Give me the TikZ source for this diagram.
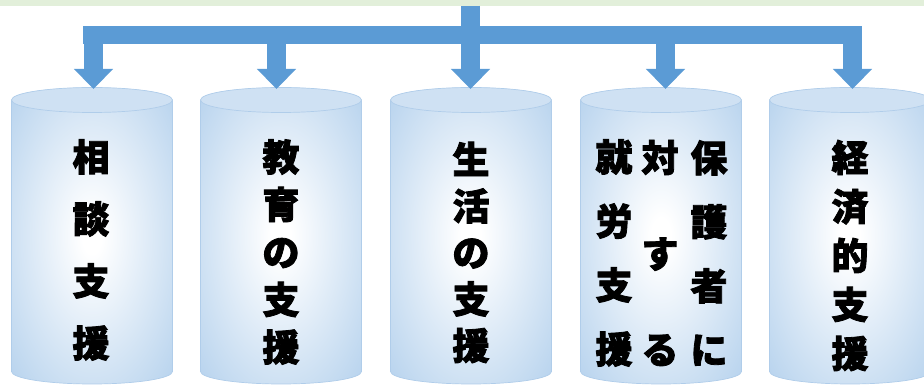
\documentclass[tikz,border=0pt]{standalone}
\usepackage{fontspec}
\newfontfamily\jp{Noto Sans CJK JP}[BoldFeatures={FakeBold=2.2}]
\usetikzlibrary{arrows.meta}
\definecolor{arrowblue}{HTML}{5B9BD5}
\definecolor{bandgreen}{HTML}{E2EFDA}
\definecolor{cylblue}{HTML}{B1CFEC}
\definecolor{cyltop}{HTML}{CFE1F3}
\definecolor{cylline}{HTML}{B0CDEA}
\pgfdeclareradialshading{cylshade}{\pgfpoint{0bp}{0bp}}{color(0bp)=(white); color(3bp)=(white); color(38bp)=(cylblue); color(72bp)=(cylblue)}
\newcommand\drawcyl[1]{%
  \shade[shading=cylshade] (#1-80.5,285) -- (#1-80.5,13.5)
     arc[start angle=180,end angle=360,x radius=80.5,y radius=12.5]
     -- (#1+80.5,285)
     arc[start angle=0,end angle=180,x radius=80.5,y radius=12.5] -- cycle;
  \draw[cylline,line width=0.7pt] (#1-80.5,285) -- (#1-80.5,13.5)
     arc[start angle=180,end angle=360,x radius=80.5,y radius=12.5]
     -- (#1+80.5,285);
  \filldraw[fill=cyltop,draw=cylline,line width=0.7pt] (#1,285) ellipse[x radius=80.5,y radius=12.5];
}
\tikzset{
  conn/.style={arrowblue,line width=19pt},
  arr/.style={conn,-{Triangle[width=38pt,length=20pt]}},
  lbl/.style={font=\jp\bfseries\fontsize{37}{#1}\selectfont,align=center,inner sep=0pt,text=black},
}
\begin{document}
\begin{tikzpicture}[x=1pt,y=1pt]
\useasboundingbox (0,0) rectangle (924,385);
\clip (0,0) rectangle (924,385);
\fill[bandgreen] (0,379) rectangle (924,385);
% cylinders
\drawcyl{92}
\drawcyl{281}
\drawcyl{471}
\drawcyl{661}
\drawcyl{850}
% connectors
\coordinate (src) at (470.5,379);
\coordinate (hub) at (470.5,350);
\coordinate (barL) at (83,350);
\coordinate (barR) at (862,350);
\coordinate (b1) at (93.5,350);
\coordinate (b2) at (276.5,350);
\coordinate (b3) at (470.5,350);
\coordinate (b4) at (665.5,350);
\coordinate (b5) at (852.5,350);
\coordinate (t1) at (93.5,296);
\coordinate (t2) at (276.5,296);
\coordinate (t3) at (470.5,296);
\coordinate (t4) at (665.5,296);
\coordinate (t5) at (852.5,296);
\draw[conn,line width=18pt] (barL) -- (barR);
\draw[conn] (src) -- (hub);
\foreach \i in {1,...,5} \draw[arr] (b\i) -- (t\i);
% labels
\node[lbl=62] (c1) at (91,135) {相\\談\\支\\援};
\node[lbl=47.5] (c2) at (281,133) {教\\育\\の\\支\\援};
\node[lbl=46.5] (c3) at (471,132.5) {生\\活\\の\\支\\援};
\node[lbl=64] (c4a) at (614,132) {就\\労\\支\\援};
\node[lbl=96] (c4b) at (660,132) {対\\す\\る};
\node[lbl=64] (c4c) at (709,132) {保\\護\\者\\に};
\node[lbl=49] (c5) at (850,129.5) {経\\済\\的\\支\\援};
\end{tikzpicture}
\end{document}
